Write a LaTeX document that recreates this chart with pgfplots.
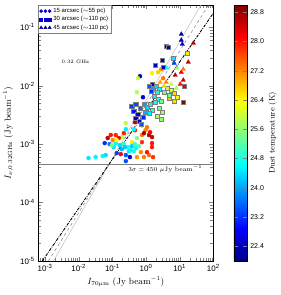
\documentclass[border=0pt]{standalone}
\usepackage{fontspec}
\setsansfont{Liberation Sans}
\usepackage{pgfplots}
\pgfplotsset{compat=1.18}
\begin{document}
\begin{tikzpicture}
\begin{axis}[
  name=ax,
  scale only axis, width=175bp, height=256bp,
  xmode=log, ymode=log,
  xmin=6.3e-4, xmax=100, ymin=1e-5, ymax=0.24,
  log base 10 number format code/.code={\textsf{10\textsuperscript{\pgfmathprintnumber[fixed,precision=0,assume math mode=true]{#1}}}},
  tick label style={font=\fontsize{8}{9}\selectfont},
  xlabel={$I_{70\mu\mathrm{m}}$ (Jy beam$^{-1}$)},
  ylabel={$I_{\nu,0.32\mathrm{GHz}}$ (Jy beam$^{-1}$)},
  label style={font=\fontsize{9}{10}\selectfont},
  xlabel style={yshift=2bp},
  colormap/jet, point meta min=22, point meta max=29,
  colorbar,
  colorbar style={
    at={(parent axis.north east)}, anchor=north west, xshift=12bp,
    width=13bp,
    ytick={22.4,23.2,24.0,24.8,25.6,26.4,27.2,28.0,28.8},
    yticklabel style={font=\sffamily\fontsize{7}{8}\selectfont,
      /pgf/number format/.cd, fixed, precision=1, fixed zerofill, assume math mode=true},
    ylabel={Dust temperature (K)},
    ylabel style={font=\fontsize{8}{9}\selectfont, yshift=2bp},
  },
  legend style={at={(rel axis cs:0,1)}, anchor=north west,
    font=\sffamily\fontsize{6}{7}\selectfont, draw=gray, inner sep=1pt,
    row sep=-1.5pt, cells={anchor=west}},
  legend image code/.code={\foreach \xx in {0pt,4.3pt,8.6pt}{\draw[#1] plot coordinates {(\xx,0pt)};}},
]
\coordinate (O) at (rel axis cs:0,0);
\addlegendimage{only marks, mark=*, mark size=1.6pt, color=blue!85!black}
\addlegendentry{15 arcsec ($\sim$55 pc)}
\addlegendimage{only marks, mark=square*, mark size=1.55pt, color=blue!85!black}
\addlegendentry{30 arcsec ($\sim$110 pc)}
\addlegendimage{only marks, mark=triangle*, mark size=1.9pt, color=blue!60!black}
\addlegendentry{45 arcsec ($\sim$110 pc)}

% 15 arcsec (circles)
\addplot[scatter, only marks, mark=*, mark size=2pt, scatter src=explicit,
  scatter/use mapped color={draw=mapped color, fill=mapped color}, forget plot]
  table[meta=t] {
x y t
0.661 0.0145 22.4
0.576 0.0134 25.9
1.51 0.0164 26.5
2.29 0.0170 26.7
3.23 0.0134 27.3
2.81 0.0191 27.1
0.538 0.00774 25.8
0.813 0.00635 22.5
0.252 0.00229 25.9
0.469 0.00238 28.6
0.759 0.00211 23.3
0.969 0.00173 27.2
0.252 0.00180 24.5
0.469 0.00173 28.0
0.191 0.00132 25.9
0.0896 0.00143 28.0
0.126 0.00143 27.9
0.155 0.00127 28.2
0.103 0.00117 27.2
1.23 0.00143 28.7
1.51 0.00132 28.5
1.32 0.00160 28.1
0.538 0.00127 25.5
0.759 0.00143 27.3
0.381 0.00108 26.5
0.759 0.00108 27.8
0.0592 0.00104 23.2
0.0836 0.00100 23.6
0.126 0.00104 24.6
0.167 0.000962 24.4
0.219 0.00100 24.9
0.289 0.000889 24.7
0.381 0.000925 24.3
0.502 0.000855 24.6
0.191 0.000822 24.1
0.310 0.000759 24.5
0.437 0.000759 24.8
0.617 0.000925 25.2
0.110 0.000889 24.5
0.0960 0.000962 25.4
0.708 0.000729 27.2
1.51 0.000889 28.0
0.135 0.000701 23.3
0.178 0.000674 28.1
0.0516 0.000624 24.6
0.0318 0.000600 24.6
0.0196 0.000577 24.5
0.871 0.000600 27.3
0.538 0.000600 27.1
1.23 0.000649 27.4
0.252 0.000512 23.4
0.332 0.000600 22.6
1.62 0.000600 27.8
1.07 0.000729 28.0
0.0634 0.000649 24.4
0.252 0.000649 23.5
0.135 0.00117 26.4
1.51 0.00104 28.0
0.871 0.00154 28.7
0.219 0.00154 27.9
0.0728 0.00127 28.6
0.356 0.000789 24.6
0.235 0.000889 24.3
0.469 0.00100 25.0
1.07 0.00195 27.3
0.437 0.00180 24.6
};

% 30 arcsec (squares)
\addplot[scatter, only marks, mark=square*, mark size=2.3pt, scatter src=explicit,
  scatter/use mapped color={draw=gray, fill=mapped color}, line width=0.3pt, forget plot]
  table[meta=t] {
x y t
3.97 0.0473 22.2
4.56 0.0455 22.3
16.9 0.0360 26.5
6.43 0.0295 24.5
1.86 0.0224 22.4
3.01 0.0273 22.3
3.23 0.0207 22.5
1.51 0.0106 22.6
13.7 0.0098 28.3
12.8 0.00522 28.9
6.89 0.00543 26.6
8.48 0.00635 26.4
4.89 0.00611 26.8
1.23 0.0098 23.5
1.62 0.00906 24.0
1.99 0.0098 24.4
2.45 0.00871 24.6
1.41 0.00805 23.2
2.13 0.00774 24.8
4.25 0.00906 26.0
5.61 0.00838 26.3
6.89 0.00745 26.6
3.46 0.00774 25.5
4.89 0.00689 25.3
1.74 0.00662 24.5
2.29 0.00588 24.9
2.81 0.00543 25.4
1.86 0.00522 24.7
0.381 0.00447 23.3
0.502 0.00483 23.4
0.661 0.00412 23.6
0.437 0.00366 23.0
0.576 0.00326 22.8
0.871 0.00483 24.0
1.07 0.00428 24.4
1.32 0.00483 24.6
1.51 0.00381 24.9
0.969 0.00352 24.1
1.23 0.00339 24.5
2.45 0.00412 25.5
3.01 0.00352 25.7
2.13 0.00301 25.9
2.81 0.00267 25.6
0.502 0.00278 22.6
0.617 0.00247 22.4
0.813 0.00290 23.1
0.708 0.00220 23.5
};

% 45 arcsec (triangles)
\addplot[scatter, only marks, mark=triangle*, mark size=2.5pt, scatter src=explicit,
  scatter/use mapped color={draw=mapped color, fill=mapped color}, forget plot]
  table[meta=t] {
x y t
11.2 0.0759 22.3
11.2 0.0600 22.4
12.0 0.0512 22.5
25.5 0.0532 28.7
6.89 0.0243 23.3
18.1 0.0252 28.6
4.25 0.0199 24.8
8.48 0.0199 25.6
11.2 0.0170 28.2
12.8 0.0191 27.3
7.38 0.0151 28.6
2.63 0.0115 27.0
3.97 0.0115 27.2
5.61 0.0106 26.0
10.4 0.0106 28.0
12.8 0.0124 28.5
3.46 0.0098 26.6
7.91 0.00906 25.7
};

% lines
\addplot[gray, line width=0.4pt, forget plot] coordinates {(6.3e-4,4.5e-4) (100,4.5e-4)};
\addplot[black!25, line width=0.5pt, forget plot] coordinates {(1.78e-3,1e-5) (42.7,0.24)};
\addplot[gray, line width=0.5pt, dashed, forget plot] coordinates {(1.26e-3,1e-5) (71.8,0.24)};
\addplot[black, line width=0.9pt, dash pattern=on 3pt off 1.2pt on 0.8pt off 1.2pt, forget plot] coordinates {(8.3e-4,1e-5) (100,0.174)};

\node[font=\fontsize{5}{6}\selectfont] at (axis cs:0.008,0.0252) {0.32 GHz};
\node[anchor=east, font=\fontsize{6.3}{7}\selectfont, inner sep=0pt] at (axis cs:47.5,3.74e-4) {$3\sigma=450~\mu$Jy beam$^{-1}$};
\end{axis}
\path (O) ++(-35bp,-34bp) rectangle ++(275bp,295bp);
\end{tikzpicture}
\end{document}
